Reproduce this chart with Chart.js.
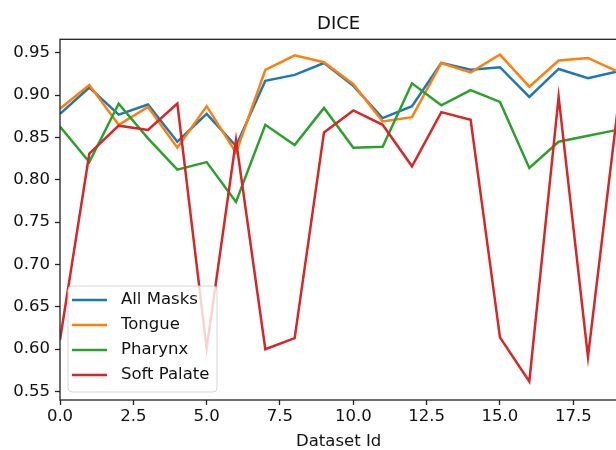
<!DOCTYPE html>
<html>
<head>
<meta charset="utf-8">
<script src="https://cdn.jsdelivr.net/npm/chart.js@4"></script>
<style>
  html, body { margin: 0; padding: 0; background: #fff; overflow: hidden; }
  #wrap { width: 620px; height: 450px; }
</style>
</head>
<body>
<div id="wrap"><canvas id="diceChart" width="620" height="450"></canvas></div>
<script>
  // dataset ids 0..19
  const datasetIds = [0, 1, 2, 3, 4, 5, 6, 7, 8, 9, 10, 11, 12, 13, 14, 15, 16, 17, 18, 19];

  const allMasks   = [0.878, 0.909, 0.877, 0.889, 0.845, 0.878, 0.840, 0.917, 0.924, 0.938, 0.911, 0.873, 0.887, 0.938, 0.930, 0.933, 0.898, 0.931, 0.920, 0.928];
  const tongue     = [0.884, 0.912, 0.865, 0.886, 0.838, 0.887, 0.832, 0.930, 0.947, 0.939, 0.913, 0.869, 0.874, 0.938, 0.927, 0.948, 0.910, 0.941, 0.944, 0.928];
  const pharynx    = [0.863, 0.821, 0.890, 0.849, 0.812, 0.821, 0.774, 0.865, 0.841, 0.885, 0.838, 0.839, 0.914, 0.888, 0.906, 0.892, 0.814, 0.845, 0.852, 0.859];
  const softPalate = [0.611, 0.831, 0.864, 0.859, 0.890, 0.601, 0.847, 0.600, 0.613, 0.856, 0.882, 0.865, 0.816, 0.880, 0.871, 0.614, 0.562, 0.898, 0.591, 0.880];

  const seriesNames = ["All Masks", "Tongue", "Pharynx", "Soft Palate"];
  const seriesColors = ["#1f77b4", "#ff7f0e", "#2ca02c", "#d62728"];

  const FONT = "'DejaVu Sans', sans-serif";
  const TEXT = "#111";

  function toPoints(values) {
    return values.map((v, i) => ({ x: datasetIds[i], y: v }));
  }

  // title, spines and legend drawn like matplotlib does
  const mplExtras = {
    id: "mplExtras",
    afterDatasetsDraw(chart) {
      const ctx = chart.ctx;
      const a = chart.chartArea;
      ctx.save();
      ctx.strokeStyle = "#222";
      ctx.lineWidth = 1.3;
      ctx.strokeRect(a.left, a.top, a.right - a.left, a.bottom - a.top);

      ctx.fillStyle = TEXT;
      ctx.font = "18px " + FONT;
      ctx.textAlign = "center";
      ctx.textBaseline = "alphabetic";
      ctx.fillText("DICE", (a.left + a.right) / 2, 28.5);

      // legend box
      const bx = 68, by = 286, bw = 149, bh = 106, r = 4;
      ctx.beginPath();
      ctx.moveTo(bx + r, by);
      ctx.arcTo(bx + bw, by, bx + bw, by + bh, r);
      ctx.arcTo(bx + bw, by + bh, bx, by + bh, r);
      ctx.arcTo(bx, by + bh, bx, by, r);
      ctx.arcTo(bx, by, bx + bw, by, r);
      ctx.closePath();
      ctx.fillStyle = "rgba(255,255,255,0.8)";
      ctx.fill();
      ctx.strokeStyle = "rgba(204,204,204,0.8)";
      ctx.lineWidth = 1;
      ctx.stroke();

      ctx.font = "16.5px " + FONT;
      ctx.textAlign = "left";
      ctx.textBaseline = "middle";
      chart.data.datasets.forEach((ds, i) => {
        const y = 300 + i * 25;
        ctx.strokeStyle = ds.borderColor;
        ctx.lineWidth = 2.5;
        ctx.beginPath();
        ctx.moveTo(72, y);
        ctx.lineTo(107, y);
        ctx.stroke();
        ctx.fillStyle = TEXT;
        ctx.fillText(ds.label, 121, y);
      });
      ctx.restore();
    }
  };

  const datasets = [allMasks, tongue, pharynx, softPalate].map((vals, i) => ({
    label: seriesNames[i],
    data: toPoints(vals),
    borderColor: seriesColors[i],
    backgroundColor: seriesColors[i],
    borderWidth: 2.5,
    pointRadius: 0,
    tension: 0,
    order: 4 - i
  }));

  new Chart(document.getElementById("diceChart"), {
    type: "line",
    data: { datasets: datasets },
    plugins: [mplExtras],
    options: {
      responsive: false,
      animation: false,
      devicePixelRatio: 1,
      layout: { padding: { top: 39.3, right: 2.7, left: 0, bottom: 0 } },
      plugins: {
        legend: { display: false },
        tooltip: { enabled: false },
        title: { display: false }
      },
      scales: {
        x: {
          type: "linear",
          min: 0,
          max: 19,
          afterFit(scale) { scale.height = 50; },
          border: { display: false },
          grid: {
            drawOnChartArea: false,
            drawTicks: true,
            tickLength: 5,
            tickWidth: 1.3,
            tickColor: "#222"
          },
          ticks: {
            stepSize: 2.5,
            includeBounds: false,
            maxRotation: 0,
            autoSkip: false,
            padding: 2,
            color: TEXT,
            font: { family: FONT, size: 16.5 },
            callback: v => Number(v).toFixed(1)
          },
          title: {
            display: true,
            text: "Dataset Id",
            color: TEXT,
            font: { family: FONT, size: 16.5, lineHeight: 1 },
            padding: { top: 0, bottom: 0 }
          }
        },
        y: {
          type: "linear",
          min: 0.540,
          max: 0.966,
          afterFit(scale) { scale.width = 60; },
          border: { display: false },
          grid: {
            drawOnChartArea: false,
            drawTicks: true,
            tickLength: 5,
            tickWidth: 1.3,
            tickColor: "#222"
          },
          ticks: {
            stepSize: 0.05,
            includeBounds: false,
            padding: 5,
            color: TEXT,
            font: { family: FONT, size: 16.5 },
            callback: v => Number(v).toFixed(2)
          }
        }
      }
    }
  });
</script>
</body>
</html>
